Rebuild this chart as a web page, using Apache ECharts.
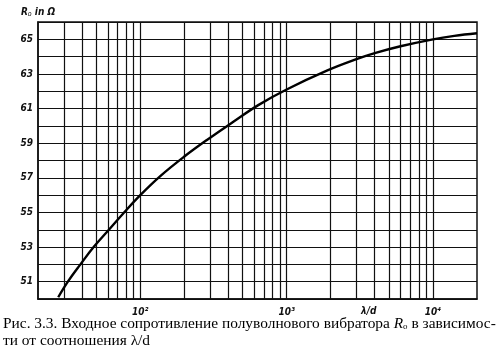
<!DOCTYPE html>
<html>
<head>
<meta charset="utf-8">
<script src="https://cdn.jsdelivr.net/npm/echarts@6/dist/echarts.min.js"></script>
<style>
  html, body { margin: 0; padding: 0; background: #fff; }
  #main { width: 500px; height: 355px; }
</style>
</head>
<body>
<div id="main"></div>
<script>
/* R0 vs lambda/d */
var ratio = [27.5, 32, 39, 48, 61, 77, 100, 137, 198, 287, 435, 640, 1000, 1900, 3000, 4000, 6000, 10000, 14000, 20000];
var resistance = [50.1, 51, 52, 53, 54, 54.97, 56.0, 57.1, 58.2, 59.2, 60.25, 61.2, 62.1, 63.2, 63.85, 64.2, 64.6, 65.0, 65.2, 65.35];

// vertical grid lines of the log paper
var gridX = [30, 40, 50, 60, 70, 80, 90, 100, 200, 300, 400, 500, 600, 700, 800, 900,
  1000, 2000, 3000, 4000, 5000, 6000, 7000, 8000, 9000, 10000];
var decadeLabels = { 2: '10²', 3: '10³', 4: '10⁴' };

var chartDom = document.getElementById('main');
var myChart = echarts.init(chartDom);
var labelFont = 'DejaVu Sans Condensed, Liberation Sans, sans-serif';

var option = {
  animation: false,
  backgroundColor: '#fff',
  grid: {
    left: 38,
    right: 23,
    top: 22,
    bottom: 56,
    show: true,
    borderColor: '#111',
    borderWidth: 1.5
  },
  xAxis: {
    type: 'log',
    logBase: 10,
    min: 20,
    max: 20000,
    axisLine: { show: true, lineStyle: { color: '#111', width: 1.5 } },
    axisTick: { show: false },
    splitLine: { show: false },
    axisLabel: {
      margin: 8,
      color: '#111',
      fontFamily: labelFont,
      fontStyle: 'italic',
      fontWeight: 'bold',
      fontSize: 10,
      showMinLabel: false,
      showMaxLabel: false,
      formatter: function (v) {
        var p = Math.round(Math.log10(v));
        if (Math.abs(Math.log10(v) - p) > 1e-6) return '';
        return decadeLabels[p] || '';
      }
    }
  },
  yAxis: {
    type: 'value',
    min: 50,
    max: 66,
    interval: 1,
    name: '{r|R}{s|o}{n| in Ω}',
    nameLocation: 'end',
    nameGap: 4,
    nameTextStyle: {
      rich: {
        r: { fontFamily: labelFont, fontStyle: 'italic', fontWeight: 'bold', fontSize: 10, color: '#111' },
        s: { fontFamily: labelFont, fontStyle: 'italic', fontSize: 7, color: '#111', padding: [5, 0, 0, 0] },
        n: { fontFamily: labelFont, fontStyle: 'italic', fontWeight: 'bold', fontSize: 10, color: '#111' }
      }
    },
    axisLine: { show: true, lineStyle: { color: '#111', width: 1.5 } },
    axisTick: { show: false },
    splitLine: { show: true, lineStyle: { color: '#111', width: 1.2 } },
    axisLabel: {
      margin: 5,
      color: '#111',
      fontFamily: labelFont,
      fontStyle: 'italic',
      fontWeight: 'bold',
      fontSize: 10,
      formatter: function (v) {
        return (v % 2 === 1 && v < 66) ? String(v) : '';
      }
    }
  },
  series: [
    {
      name: 'R0',
      type: 'line',
      data: ratio.map(function (x, i) { return [x, resistance[i]]; }),
      smooth: 0.4,
      showSymbol: false,
      lineStyle: { color: '#000', width: 2.4 },
      z: 5,
      markLine: {
        silent: true,
        symbol: 'none',
        label: { show: false },
        lineStyle: { color: '#111', width: 1.2, type: 'solid' },
        data: gridX.map(function (x) { return { xAxis: x }; }),
        z: 1
      }
    }
  ],
  graphic: [
    {
      type: 'text',
      left: 361,
      top: 306,
      style: {
        text: 'λ/d',
        fill: '#111',
        font: 'italic bold 10px ' + labelFont
      }
    },
    {
      type: 'text',
      left: 3,
      top: 316,
      style: {
        text: '{t|Рис. 3.3. Входное сопротивление полуволнового вибратора }{r|R}{s|o}{t| в зависимос-}\n{t|ти от соотношения λ/d}',
        rich: {
          t: { fontFamily: 'Liberation Serif, serif', fontSize: 15.4, color: '#111', lineHeight: 17 },
          r: { fontFamily: 'Liberation Serif, serif', fontStyle: 'italic', fontSize: 15.4, color: '#111', lineHeight: 17 },
          s: { fontFamily: 'Liberation Serif, serif', fontSize: 9, color: '#111', padding: [6, 0, 0, 0], lineHeight: 17 }
        }
      }
    }
  ]
};

option && myChart.setOption(option);
window.onresize = function () {
  myChart.resize();
};
</script>
</body>
</html>
